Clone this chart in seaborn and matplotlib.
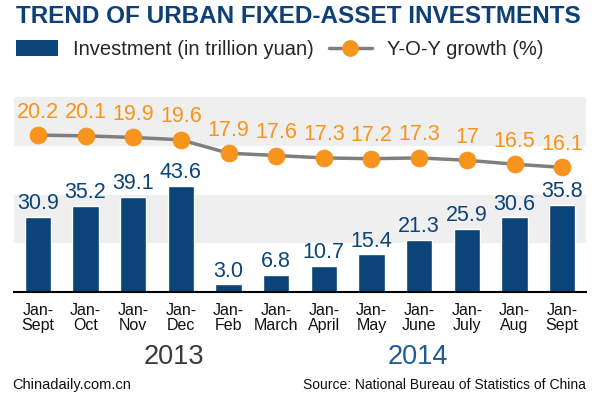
import numpy as np
import pandas as pd
import matplotlib
matplotlib.use("Agg")
import matplotlib.pyplot as plt
from matplotlib.patches import Patch
from matplotlib.lines import Line2D
from matplotlib.ticker import FixedLocator
import seaborn as sns

# ---- data ----
periods = ["Jan-\nSept", "Jan-\nOct", "Jan-\nNov", "Jan-\nDec", "Jan-\nFeb", "Jan-\nMarch",
           "Jan-\nApril", "Jan-\nMay", "Jan-\nJune", "Jan-\nJuly", "Jan-\nAug", "Jan-\nSept"]
investment = [30.9, 35.2, 39.1, 43.6, 3.0, 6.8, 10.7, 15.4, 21.3, 25.9, 30.6, 35.8]
growth = [20.2, 20.1, 19.9, 19.6, 17.9, 17.6, 17.3, 17.2, 17.3, 17.0, 16.5, 16.1]
growth_labels = ["20.2", "20.1", "19.9", "19.6", "17.9", "17.6", "17.3", "17.2", "17.3", "17", "16.5", "16.1"]
years = ["2013", "2014"]
title = "TREND OF URBAN FIXED-ASSET INVESTMENTS"
legend_labels = ["Investment (in trillion yuan)", "Y-O-Y growth (%)"]
credit = "Chinadaily.com.cn"
source = "Source: National Bureau of Statistics of China"

NAVY = "#0b4479"
ORANGE = "#f7941d"
GRAY = "#7f7f7f"
BAND = "#efefef"

sns.set_style("white")
plt.rcParams["font.family"] = ["Liberation Sans", "DejaVu Sans"]

fig = plt.figure(figsize=(6, 3.98), dpi=100)
W, H = 600, 398
ax = fig.add_axes([14 / W, 1 - 291.7 / H, 572 / W, (291.7 - 97.3) / H])

df = pd.DataFrame({"idx": [str(i) for i in range(len(investment))], "val": investment})
sns.barplot(data=df, x="idx", y="val", color=NAVY, saturation=1, width=0.55, ax=ax, zorder=2)
ax.set_xlim(-0.5, len(investment) - 0.5)
ax.set_ylim(0, 80)
ax.axhspan(20, 40, color=BAND, zorder=0, lw=0)
ax.axhspan(60, 80, color=BAND, zorder=0, lw=0)
ax.bar_label(ax.containers[0], fmt="%.1f", padding=2, color=NAVY, fontsize=15.5)

for s in ["top", "left", "right"]:
    ax.spines[s].set_visible(False)
ax.spines["bottom"].set_color("black")
ax.spines["bottom"].set_linewidth(1.5)
ax.set_yticks([])
ax.set_xlabel("")
ax.set_ylabel("")
ax.set_xticks(range(len(periods)))
ax.set_xticklabels(periods, fontsize=11.5, linespacing=1.05, color="#111111")
ax.tick_params(axis="x", which="major", length=0, pad=8)
ax.xaxis.set_minor_locator(FixedLocator(np.arange(-0.5, len(periods), 1.0)))
ax.tick_params(axis="x", which="minor", length=5, width=1.5, color="black")

ax2 = ax.twinx()
sns.lineplot(x=np.arange(len(growth)), y=growth, ax=ax2, color=GRAY, lw=2.5,
             marker="o", markersize=12, markerfacecolor=ORANGE, markeredgecolor=ORANGE)
ax2.set_ylim(0.3, 25)
ax2.set_yticks([])
for s in ax2.spines.values():
    s.set_visible(False)
for i, (v, lab) in enumerate(zip(growth, growth_labels)):
    ax2.annotate(lab, (i, v), xytext=(0, 9), textcoords="offset points",
                 ha="center", va="bottom", color=ORANGE, fontsize=15.5)

# texts
fig.text(16 / W, 1 - 23 / H, title, fontsize=17.5, fontweight="bold", color="#0d3f78",
         ha="left", va="baseline")
fig.text(174 / W, 1 - 364 / H, years[0], fontsize=19.5, color="#3a3a3a", ha="center", va="baseline")
fig.text(418 / W, 1 - 364 / H, years[1], fontsize=19.5, color="#1f5a96", ha="center", va="baseline")
fig.text(12 / W, 1 - 389 / H, credit, fontsize=10.5, color="#111111", ha="left", va="baseline")
fig.text(586 / W, 1 - 389 / H, source, fontsize=10, color="#111111", ha="right", va="baseline")

handles = [Patch(facecolor=NAVY, edgecolor="none"),
           Line2D([0], [0], color=GRAY, lw=2.5, marker="o", markersize=11,
                  markerfacecolor=ORANGE, markeredgecolor=ORANGE)]
fig.legend(handles, legend_labels, loc="center left", bbox_to_anchor=(12 / W, 1 - 49.5 / H),
           ncol=2, frameon=False, fontsize=14.5, handlelength=2.1, handleheight=0.8,
           handletextpad=0.75, columnspacing=0.75, borderaxespad=0, borderpad=0.2)

fig.savefig("out.png", dpi=100)
